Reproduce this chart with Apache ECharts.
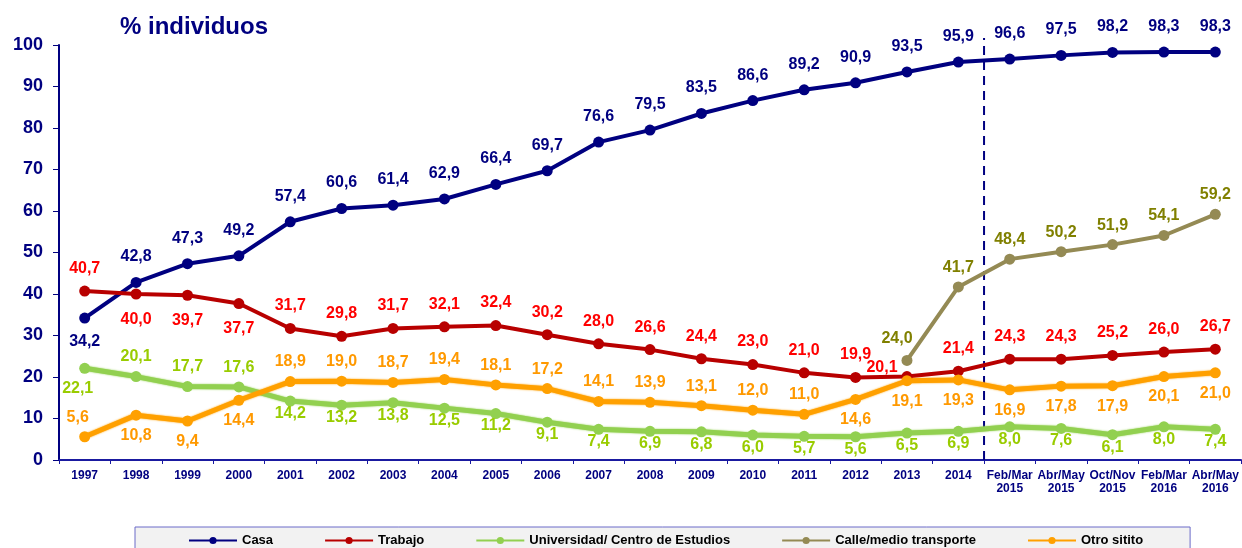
<!DOCTYPE html>
<html>
<head>
<meta charset="utf-8">
<script src="https://cdn.jsdelivr.net/npm/echarts@6/dist/echarts.min.js"></script>
<style>html,body{margin:0;padding:0;background:#fff;}#c{width:1242px;height:548px;}</style>
</head>
<body>
<div id="c"></div>
<script>
// ---- data ----
const categories = ['1997','1998','1999','2000','2001','2002','2003','2004','2005','2006','2007','2008','2009','2010','2011','2012','2013','2014','Feb/Mar\n2015','Abr/May\n2015','Oct/Nov\n2015','Feb/Mar\n2016','Abr/May\n2016'];
const casa = [34.2,42.8,47.3,49.2,57.4,60.6,61.4,62.9,66.4,69.7,76.6,79.5,83.5,86.6,89.2,90.9,93.5,95.9,96.6,97.5,98.2,98.3,98.3];
const trabajo = [40.7,40.0,39.7,37.7,31.7,29.8,31.7,32.1,32.4,30.2,28.0,26.6,24.4,23.0,21.0,19.9,20.1,21.4,24.3,24.3,25.2,26.0,26.7];
const universidad = [22.1,20.1,17.7,17.6,14.2,13.2,13.8,12.5,11.2,9.1,7.4,6.9,6.8,6.0,5.7,5.6,6.5,6.9,8.0,7.6,6.1,8.0,7.4];
const calle = [null,null,null,null,null,null,null,null,null,null,null,null,null,null,null,null,24.0,41.7,48.4,50.2,51.9,54.1,59.2];
const otro = [5.6,10.8,9.4,14.4,18.9,19.0,18.7,19.4,18.1,17.2,14.1,13.9,13.1,12.0,11.0,14.6,19.1,19.3,16.9,17.8,17.9,20.1,21.0];
const seriesNames = ['Casa','Trabajo','Universidad/ Centro de Estudios','Calle/medio transporte','Otro sitito'];
const yTicks = [0,10,20,30,40,50,60,70,80,90,100];
const dividerAfterIndex = 17; // dashed separator after "2014"

// label placement (T = above, B = below)
const casaPos = 'BTTTTTTTTTTTTTTTTTTTTTT';
const trabajoPos = 'TBBBTTTTTTTTTTTTTTTTTTT';
const univPos = 'BTTTBBBBBBBBBBBBBBBBBBB';
const callePos = 'TTTTTTTTTTTTTTTTTTTTTTT';
const otroPos = 'TBBBTTTTTTTTTTTBBBBBBBB';

const NAVY = '#000080';
const FONT = 'Liberation Sans, Arial, sans-serif';
function fmt(v){ return v.toFixed(1).replace('.', ','); }
function build(values, pos, dTop, dBot, extra){
  return values.map((v,i)=>{
    if (v === null) return null;
    const below = pos[i] === 'B';
    const item = { value: v, label: { position: below ? 'bottom' : 'top', distance: below ? dBot : dTop } };
    if (extra && extra[i]) Object.assign(item.label, extra[i]);
    return item;
  });
}
function mkSeries(name, values, pos, lineColor, labelColor, width, glow, dTop, dBot, extra){
  return {
    name: name, type: 'line', data: build(values, pos, dTop, dBot, extra),
    symbol: 'circle', symbolSize: 11,
    lineStyle: { color: lineColor, width: width, shadowColor: glow ? lineColor : 'transparent', shadowBlur: glow ? 2 : 0 },
    itemStyle: { color: lineColor },
    label: { show: true, color: labelColor, fontSize: 16, fontWeight: 'bold', fontFamily: FONT, formatter: p => fmt(p.value) },
    connectNulls: false, z: 3
  };
}

const chart = echarts.init(document.getElementById('c'), null, { renderer: 'canvas' });
chart.setOption({
  animation: false,
  backgroundColor: '#ffffff',
  title: { text: '% individuos', left: 115, top: 10, textStyle: { color: NAVY, fontSize: 24, fontWeight: 'bold', fontFamily: FONT } },
  grid: { left: 59, right: 1, top: 45, bottom: 88, containLabel: false },
  legend: {
    data: seriesNames, left: 135, top: 527, padding: [7, 47, 14, 53],
    backgroundColor: '#f2f2f2', borderColor: '#6a6ac8', borderWidth: 1,
    itemGap: 51, itemWidth: 48, itemHeight: 9,
    textStyle: { color: '#000', fontSize: 13, fontWeight: 'bold', fontFamily: FONT }
  },
  xAxis: [{
    type: 'category', data: categories, boundaryGap: true,
    axisLine: { lineStyle: { color: '#1a1aa0', width: 2 } },
    axisTick: { show: true, length: 4, lineStyle: { color: '#1a1aa0' } },
    axisLabel: { interval: 0, color: NAVY, fontSize: 12, fontWeight: 'bold', lineHeight: 13, margin: 9, fontFamily: FONT },
    splitLine: { show: false }
  },{
    type: 'value', min: -0.5, max: categories.length - 0.5, show: false
  }],
  yAxis: {
    type: 'value', min: yTicks[0], max: yTicks[yTicks.length-1], interval: 10,
    axisLine: { show: true, onZero: false, lineStyle: { color: NAVY, width: 2 } },
    axisTick: { show: true, length: 6, lineStyle: { color: NAVY } },
    axisLabel: { color: NAVY, fontSize: 18, fontWeight: 'bold', margin: 16, fontFamily: FONT },
    splitLine: { show: false }
  },
  series: [
    {
      type: 'line', xAxisIndex: 1, data: [[dividerAfterIndex + 0.5, 0], [dividerAfterIndex + 0.5, 101.7]],
      symbol: 'none', clip: false, silent: true, z: 1,
      lineStyle: { color: NAVY, width: 2, type: [9, 6] }, tooltip: { show: false }
    },
    mkSeries(seriesNames[0], casa, casaPos, '#000080', '#000080', 4, false, 12, 10),
    mkSeries(seriesNames[1], trabajo, trabajoPos, '#b80000', '#ff0000', 4, false, 9, 12, {16: { offset: [-25, 14] }}),
    mkSeries(seriesNames[2], universidad, univPos, '#92d050', '#99cc00', 5, true, 6, -1, {0: { offset: [-7, 8] }}),
    mkSeries(seriesNames[3], calle, callePos, '#948a54', '#808000', 4, false, 6, 6, {16: { offset: [-10, -2] }}),
    mkSeries(seriesNames[4], otro, otroPos, '#ffa000', '#ff9900', 5, true, 6, 7, {0: { offset: [-7, 0] }})
  ]
});
</script>
</body>
</html>
